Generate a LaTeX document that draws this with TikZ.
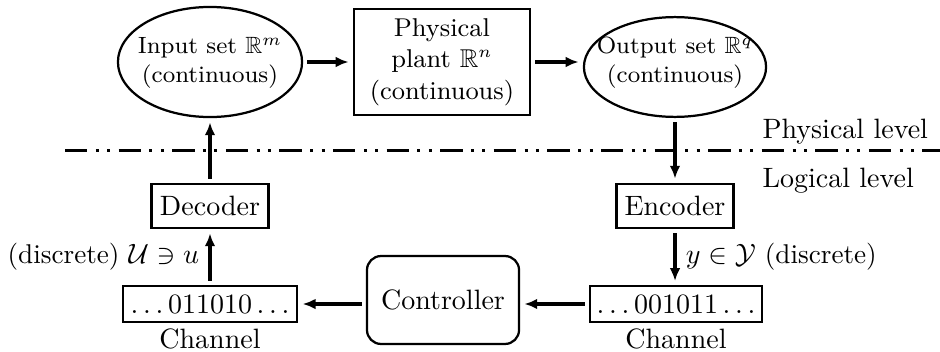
\documentclass[tikz,border=0pt]{standalone}
\usepackage{amssymb}
\usetikzlibrary{arrows.meta,shapes.geometric}
% body of a set ellipse: a box of width #1 whose strut (#2 below the baseline,
% #3 tall) fixes the ellipse size, with the two-line text #4 centred in it
\newcommand\setbody[4]{\makebox[#1]{\rule[#2]{0pt}{#3}\begin{tabular}{@{}c@{}}#4\end{tabular}}}
\begin{document}
\begin{tikzpicture}[x=0.35714pt,y=-0.35714pt,
  box/.style={draw, line width=0.8pt, rectangle, inner sep=0pt, align=center},
  setnode/.style={draw, line width=0.8pt, ellipse, inner sep=0pt,
    font=\fontsize{8.4}{10.4}\selectfont},
  flow/.style={-{Latex[length=4.6pt,width=3.8pt]}, line width=1.1pt,
    shorten <=1.5pt, shorten >=1.5pt},
  flowlabel/.style={font=\fontsize{9.7}{11.6}\selectfont},
  levelline/.style={line width=1.1pt,
    dash pattern=on 8pt off 3pt on 1.07pt off 3pt on 1.07pt off 3pt},
]
\useasboundingbox (0,0) rectangle (940,351);

% physical level
\node[setnode] (inp) at (210,62)
  {\setbody{46.5pt}{-11.7pt}{27.8pt}{Input set $\mathbb{R}^m$\\(continuous)}};
\node[box, minimum width=62.9pt, minimum height=37.9pt,
  font=\fontsize{9.2}{11.3}\selectfont] (plant) at (442,62)
  {Physical\\plant $\mathbb{R}^n$\\(continuous)};
\node[setnode] (out) at (675,67)
  {\setbody{46pt}{-12.3pt}{25.2pt}{Output set $\mathbb{R}^q$\\(continuous)}};

% boundary between the two levels
\coordinate (lvlL) at (65,150.7);
\coordinate (lvlR) at (940,150.7);
\draw[levelline] (lvlL) -- (lvlR);
\node[anchor=base west, inner sep=0pt] (phys) at (762,138.5) {Physical level};
\node[anchor=base west, inner sep=0pt] (logi) at (762,187.4) {Logical level};

% logical level
\node[box, minimum width=41.8pt, minimum height=15.7pt] (dec) at (210,206) {Decoder};
\node[box, minimum width=41.8pt, minimum height=15.7pt] (enc) at (675,206) {Encoder};
\node[box, minimum width=62.4pt, minimum height=12.8pt] (chL) at (210,304)
  {$\ldots 011010 \ldots$};
\node[box, minimum width=61.4pt, minimum height=12.6pt] (chR) at (676,304)
  {$\ldots 001011 \ldots$};
\node[box, rounded corners=5pt, minimum width=54.3pt, minimum height=31.4pt]
  (ctrl) at (443,300) {Controller};
\node[anchor=north, inner sep=2pt] (chLname) at (chL.south) {Channel};
\node[anchor=north, inner sep=2pt] (chRname) at (chR.south) {Channel};

% signal flow
\draw[flow] (inp.east) -- (plant.west);
\draw[flow] (plant.east) -- (plant.east -| out.west);
\draw[flow] (out.south) -- (enc.north);
\draw[flow] (enc.south) -- node[right, flowlabel] (ylab) {$y\in\mathcal{Y}$ (discrete)}
  (enc.south |- chR.north);
\draw[flow] (chR.west) -- (chR.west -| ctrl.east);
\draw[flow] (ctrl.west |- chL.east) -- (chL.east);
\draw[flow] (chL.north) -- node[left, flowlabel] (ulab) {(discrete) $\mathcal{U}\ni u$}
  (dec.south);
\draw[flow] (dec.north) -- (inp.south);
\end{tikzpicture}
\end{document}
